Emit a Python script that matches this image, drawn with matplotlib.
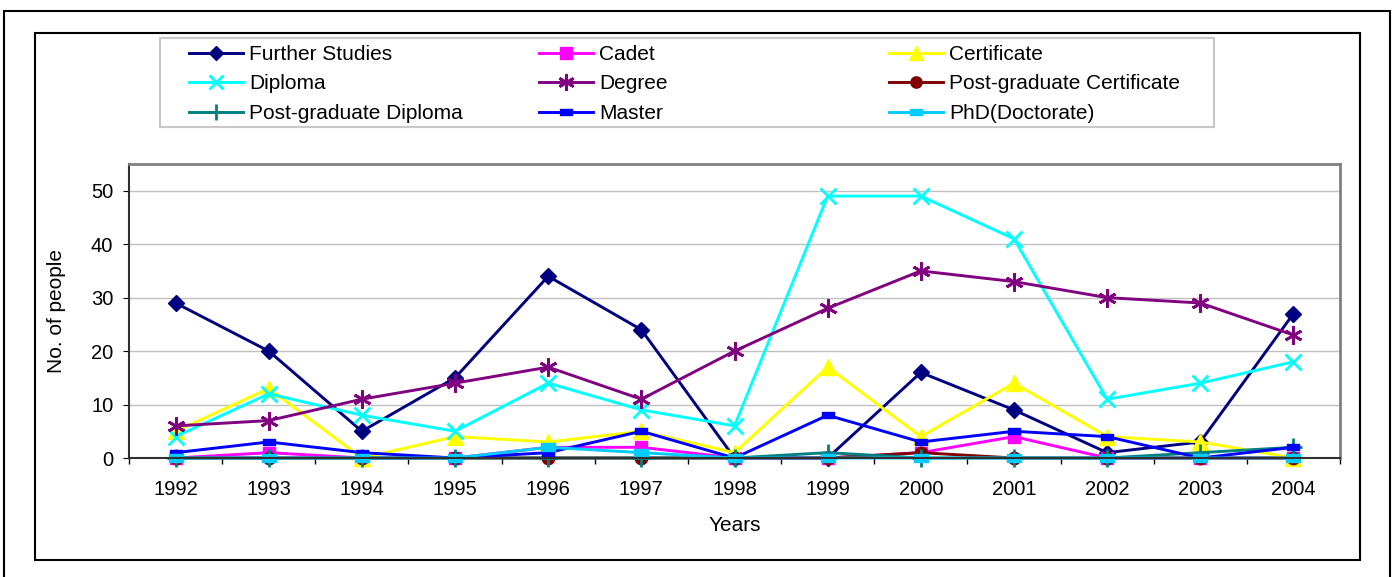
import numpy as np
import matplotlib
matplotlib.use("Agg")
import matplotlib.pyplot as plt
from matplotlib.patches import Rectangle

plt.rcParams["font.family"] = ["Liberation Sans", "DejaVu Sans"]

years = ["1992", "1993", "1994", "1995", "1996", "1997", "1998",
         "1999", "2000", "2001", "2002", "2003", "2004"]

further_studies = [29, 20, 5, 15, 34, 24, 0, 0, 16, 9, 1, 3, 27]
cadet = [0, 1, 0, 0, 2, 2, 0, 0, 1, 4, 0, 0, 0]
certificate = [5, 13, 0, 4, 3, 5, 1, 17, 4, 14, 4, 3, 0]
diploma = [4, 12, 8, 5, 14, 9, 6, 49, 49, 41, 11, 14, 18]
degree = [6, 7, 11, 14, 17, 11, 20, 28, 35, 33, 30, 29, 23]
pg_certificate = [0, 0, 0, 0, 0, 0, 0, 0, 1, 0, 0, 0, 0]
pg_diploma = [0, 0, 0, 0, 0, 0, 0, 1, 0, 0, 0, 1, 2]
master = [1, 3, 1, 0, 1, 5, 0, 8, 3, 5, 4, 0, 2]
phd = [0, 0, 0, 0, 2, 1, 0, 0, 0, 0, 0, 0, 0]

W, H = 1397, 577
fig = plt.figure(figsize=(W / 100, H / 100), dpi=100)
ax = fig.add_axes([129 / W, 1 - 458 / H, (1340 - 129) / W, (458 - 164) / H])

bar = [(-1, -0.55), (1, -0.55), (1, 0.55), (-1, 0.55), (-1, -0.55)]
asterisk = (6, 2, 0)

series = [
    ("Further Studies", further_studies, "#000080", "D", 8, {}),
    ("Cadet", cadet, "#FF00FF", "s", 9, {}),
    ("Certificate", certificate, "#FFFF00", "^", 11, {}),
    ("Diploma", diploma, "#00FFFF", "x", 11, {"mew": 2}),
    ("Degree", degree, "#800080", asterisk, 13, {"mew": 2}),
    ("Post-graduate Certificate", pg_certificate, "#800000", "o", 9, {}),
    ("Post-graduate Diploma", pg_diploma, "#008080", "+", 13, {"mew": 2}),
    ("Master", master, "#0000FF", bar, 9, {}),
    ("PhD(Doctorate)", phd, "#00CCFF", bar, 10, {}),
]

x = np.arange(len(years))
handles = {}
for name, vals, col, mk, ms, kw in series:
    line, = ax.plot(x, vals, color=col, lw=2.1, marker=mk, markersize=ms,
                    markerfacecolor=col, markeredgecolor=col, label=name,
                    clip_on=False, **kw)
    handles[name] = line

ax.set_xlim(-0.5, 12.5)
ax.set_ylim(0, 55)
ax.set_yticks([0, 10, 20, 30, 40, 50])
ax.set_xticks(x)
ax.set_xticklabels(years)
ax.set_xticks(np.arange(-0.5, 13, 1), minor=True)
ax.tick_params(axis="x", which="major", length=0, labelsize=14.5, pad=16)
ax.tick_params(axis="x", which="minor", length=4.3, direction="out", width=1)
ax.tick_params(axis="y", length=4.3, direction="out", labelsize=14.5, pad=7)
ax.yaxis.grid(True, color="#c0c0c0", lw=1)
ax.set_axisbelow(True)
for s in ["top", "right"]:
    ax.spines[s].set_color("#808080")
    ax.spines[s].set_linewidth(2)
for s in ["left", "bottom"]:
    ax.spines[s].set_color("#303030")
    ax.spines[s].set_linewidth(1.5)

ax.set_xlabel("Years", fontsize=15, labelpad=12)
ax.set_ylabel("No. of people", fontsize=15, labelpad=18)

# legend in three separate columns
cols = [
    (["Further Studies", "Diploma", "Post-graduate Diploma"], 189),
    (["Cadet", "Degree", "Master"], 539),
    (["Certificate", "Post-graduate Certificate", "PhD(Doctorate)"], 889),
]
for names, xl in cols:
    fig.legend([handles[n] for n in names], names, loc="upper left",
               bbox_to_anchor=(xl / W, 1 - 45 / H), frameon=False,
               fontsize=15, handlelength=2.6, handletextpad=0.3,
               labelspacing=0.5, borderpad=0, borderaxespad=0,
               markerscale=0.9)

fig.add_artist(Rectangle((160 / W, 1 - 127 / H), (1214 - 160) / W, (127 - 38) / H,
                         transform=fig.transFigure, fill=False,
                         edgecolor="#c8c8c8", lw=1.5))
fig.add_artist(Rectangle((35 / W, 1 - 560 / H), (1360 - 35) / W, (560 - 33) / H,
                         transform=fig.transFigure, fill=False,
                         edgecolor="black", lw=1.5))
fig.add_artist(Rectangle((4 / W, -0.05), (1390 - 4) / W, 1.05 - 11 / H,
                         transform=fig.transFigure, fill=False,
                         edgecolor="black", lw=1.5))

fig.savefig("out.png", dpi=100)
